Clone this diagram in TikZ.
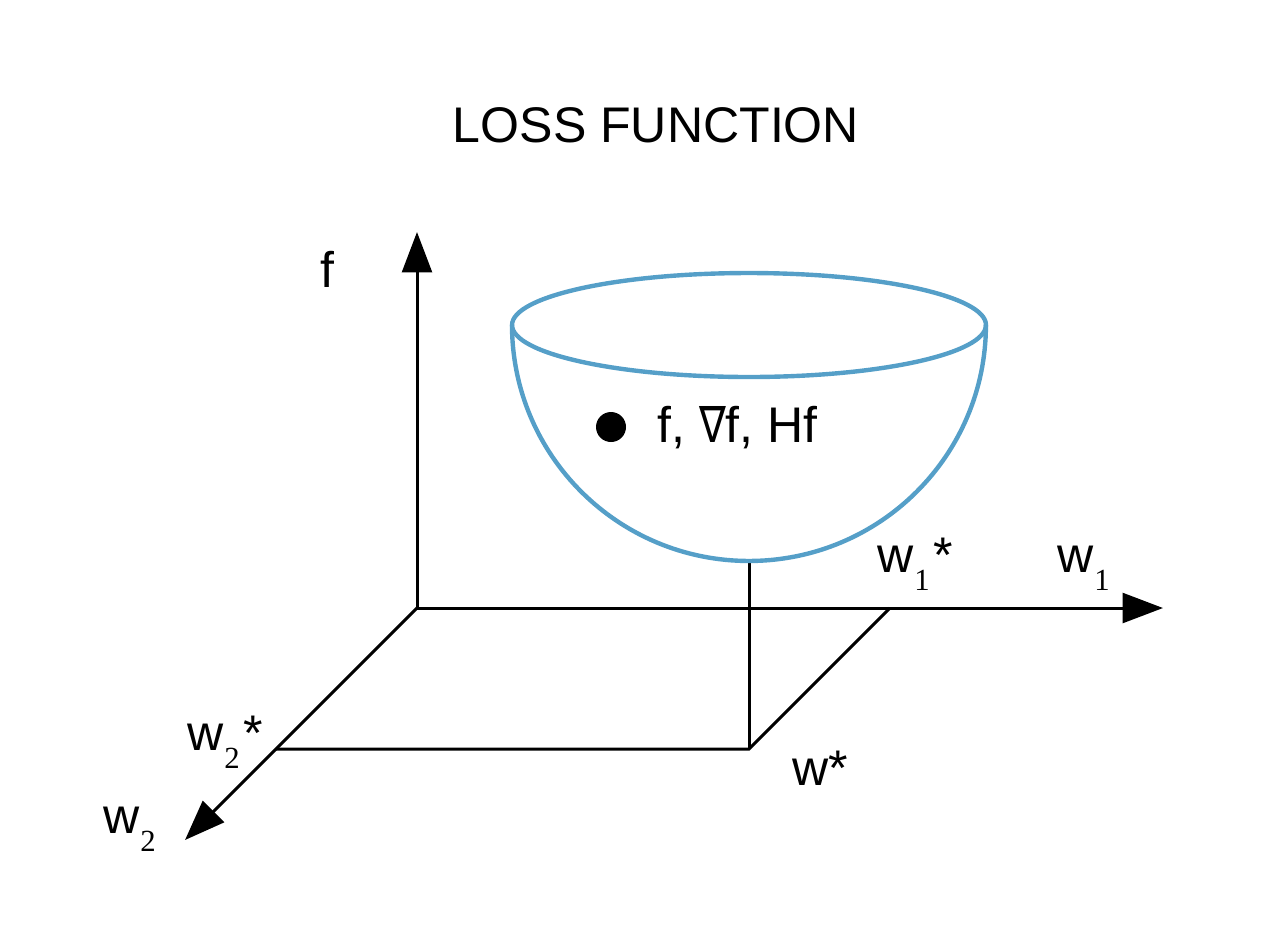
\documentclass[tikz,border=0pt]{standalone}
\usepackage{fontspec}
\setmainfont{Liberation Sans}
\newfontfamily\subfont{Liberation Serif}
\newfontfamily\symfont{DejaVu Sans}
\usepackage{tikz}
\usetikzlibrary{arrows.meta}

\definecolor{bowlblue}{HTML}{559FC8}
\newcommand{\lblsize}{\fontsize{28.5}{30}\selectfont}
\newcommand{\wsub}[1]{w\kern0.5pt\raisebox{-10.5pt}{\subfont\fontsize{17.5}{18}\selectfont #1}}

\begin{document}
\begin{tikzpicture}[
    x=0.02cm, y=-0.02cm,
    axis/.style={line width=1.7pt, -{Triangle[length=23pt, width=17pt]}},
    guide/.style={line width=1.7pt},
    bowl/.style={line width=2.5pt, draw=bowlblue},
    lbl/.style={inner sep=0pt, anchor=base west, font=\lblsize}
]
\useasboundingbox (0,0) rectangle (1270,948);

% --- TITLE ---
\node (title) [inner sep=0pt, anchor=base, font=\lblsize] at (656,142) {LOSS FUNCTION};

% --- AXES ---
\coordinate (origin) at (417,608);
\coordinate (ftip)   at (417,232);
\coordinate (w1tip)  at (1163,608);
\coordinate (w2tip)  at (185,840);
\draw [axis] (origin) -- (ftip);
\draw [axis] (origin) -- (w1tip);
\draw [axis] (origin) -- (w2tip);

% --- OPTIMUM GUIDES ---
\coordinate (w1star) at (890,608);
\coordinate (w2star) at (276,749);
\coordinate (wstar)  at (749,749);
\coordinate (bottom) at (749,561);
\draw [guide] (w1star) -- (wstar) -- (w2star);
\draw [guide] (wstar) -- (bottom);

% --- BOWL ---
\coordinate (rim) at (749,325);
\draw [bowl] (rim) ellipse [x radius=4.74cm, y radius=1.04cm];
\draw [bowl] (512,325) arc [start angle=180, end angle=360, x radius=4.74cm, y radius=4.72cm];

% --- POINT ON SURFACE ---
\fill (611,427) circle [radius=0.3cm];
\node (info) [lbl] at (657,442) {f, {\symfont\scalebox{0.8}[1]{∇}}f, Hf};

% --- LABELS ---
\node (flbl)    [lbl] at (320,287) {f};
\node (w1lbl)   [lbl] at (1057,572) {\wsub{1}};
\node (w1slbl)  [lbl] at (877,572) {\wsub{1}\kern2pt*};
\node (w2lbl)   [lbl] at (103,833) {\wsub{2}};
\node (w2slbl)  [lbl] at (187,750) {\wsub{2}\kern2pt*};
\node (wslbl)   [lbl] at (792,785) {w*};

\end{tikzpicture}
\end{document}
